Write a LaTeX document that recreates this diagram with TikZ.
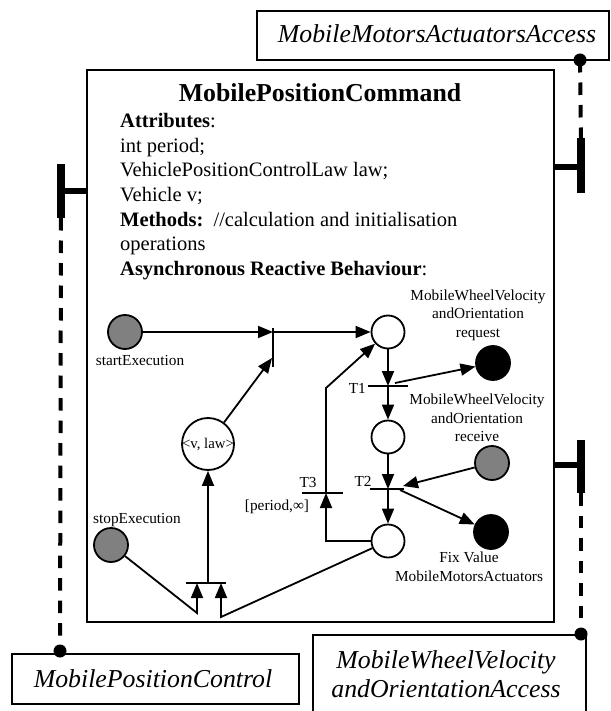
\documentclass[tikz,border=0pt]{standalone}
\usepackage{fontspec}
\setmainfont{Liberation Serif}
\usetikzlibrary{arrows.meta}

\begin{document}
\begin{tikzpicture}[x=1pt,y=-1pt,
  umlbox/.style={draw,line width=1.8pt,inner sep=0pt,outer sep=0pt},
  pnplace/.style={circle,draw,line width=1.8pt,minimum size=33pt,inner sep=0pt},
  gplace/.style={pnplace,fill=black!50,minimum size=34pt},
  bplace/.style={pnplace,fill=black,minimum size=34pt},
  pnarc/.style={line width=1.8pt,-{Triangle[length=15pt,width=12pt]}},
  tbar/.style={line width=1.8pt},
  small/.style={font=\fontsize{15.3}{18.5}\selectfont,inner sep=0pt},
  body/.style={font=\fontsize{20.5}{24.5}\selectfont,anchor=base west,inner sep=0pt},
  ital/.style={font=\fontsize{25.8}{29}\selectfont\itshape,inner sep=0pt},
  dashline/.style={line width=4pt,dash pattern=on 12.5pt off 10pt},
  thickbar/.style={line width=7.5pt},
  stem/.style={line width=6pt},
  joint/.style={circle,fill=black,minimum size=13pt,inner sep=0pt}
]
\useasboundingbox (0,0) rectangle (610,711);

% ---- component boxes ----
\node[umlbox,anchor=north west,minimum width=352pt,minimum height=49pt] (mmaa) at (257,11) {};
\node[ital,anchor=base] at (437,43) {MobileMotorsActuatorsAccess};

\node[umlbox,anchor=north west,minimum width=467pt,minimum height=552pt] (cmd) at (87,70) {};

\node[umlbox,anchor=north west,minimum width=287pt,minimum height=50pt] (mpc) at (12,654) {};
\node[ital,anchor=base] at (153,687) {MobilePositionControl};

\node[umlbox,anchor=north west,minimum width=273pt,minimum height=82pt] (wvoa) at (313,635) {};
\node[ital,anchor=base] at (446,668) {MobileWheelVelocity};
\node[ital,anchor=base] at (446,697) {andOrientationAccess};

% ---- ports and dashed links ----
\node[joint] (d1) at (580,60) {};
\node[joint] (d2) at (60,651) {};
\node[joint] (d3) at (581,634) {};

\coordinate (pa1) at (581,138); \coordinate (pa2) at (581,193);
\coordinate (pb1) at (61,164);  \coordinate (pb2) at (61,218);
\coordinate (pc1) at (581,440); \coordinate (pc2) at (581,493);

\draw[dashline] (d1.center) -- (pa1);
\draw[dashline] (pb2) -- (d2.center);
\draw[dashline] (pc2) -- (d3.center);

\draw[thickbar] (pa1) -- (pa2);
\draw[stem] (554,167) -- (pa1 |- 0,167);
\draw[thickbar] (pb1) -- (pb2);
\draw[stem] (pb1 |- 0,191) -- (87,191);
\draw[thickbar] (pc1) -- (pc2);
\draw[stem] (554,465) -- (pc1 |- 0,465);

% ---- class text ----
\node[font=\fontsize{25.8}{30}\selectfont\bfseries,anchor=base,inner sep=0pt] at (320,102) {MobilePositionCommand};
\node[body] at (120,128) {\textbf{Attributes}:};
\node[body] at (120,152.5) {int period;};
\node[body] at (120,177) {VehiclePositionControlLaw law;};
\node[body] at (120,201.5) {Vehicle v;};
\node[body] at (120,226) {\textbf{Methods:}\ \ //calculation and initialisation};
\node[body] at (120,250.5) {operations};
\node[body] at (120,275) {\textbf{Asynchronous Reactive Behaviour}:};

% ---- Petri net: places ----
\node[gplace] (start) at (125,332) {};
\node[pnplace] (p1) at (388,332) {};
\node[pnplace,minimum size=52pt] (vlaw) at (208,444) {};
\node[font=\fontsize{14.8}{16}\selectfont,inner sep=0pt] at (vlaw) {<v, law>};
\node[bplace] (request) at (493,363) {};
\node[pnplace] (p2) at (388,437) {};
\node[gplace] (receive) at (492,463) {};
\node[bplace] (fix) at (491,532) {};
\node[pnplace] (p3) at (388,541) {};
\node[gplace] (stop) at (111,545) {};

% ---- Petri net: transitions ----
\coordinate (t0) at (273,332);
\coordinate (t0b) at (272,358);
\draw[tbar] (273,328) -- (273,367);
\coordinate (t1) at (388,386);
\coordinate (t1r) at (395,383);
\draw[tbar] (368,386) -- (408,386);
\coordinate (t2) at (388,489);
\coordinate (t2r) at (403,486);
\coordinate (t2o) at (400,490);
\draw[tbar] (370,489) -- (404,489);
\coordinate (t3) at (326,493);
\coordinate (t3k) at (326,388);
\coordinate (t3in) at (326,541);
\draw[tbar] (302,493) -- (343,493);
\coordinate (tb) at (208,583);
\coordinate (tbl) at (197,583);
\coordinate (tbr) at (221,583);
\coordinate (tbll) at (197,613);
\coordinate (tbrl) at (221,617);
\draw[tbar] (186,583) -- (226,583);

% ---- Petri net: arcs ----
\draw[pnarc] (start) -- (t0);
\draw[pnarc] (t0) -- (p1);
\draw[pnarc] (vlaw) -- (t0b);
\draw[pnarc] (p1) -- (t1);
\draw[pnarc] (t1) -- (p2);
\draw[pnarc] (t1r) -- (request);
\draw[pnarc] (p2) -- (t2);
\draw[pnarc] (receive) -- (t2r);
\draw[pnarc] (t2o) -- (fix);
\draw[pnarc] (t2) -- (p3);
\draw[pnarc] (p3) -- (t3in) -- (t3);
\draw[pnarc] (t3) -- (t3k) -- (p1);
\draw[pnarc] (stop) -- (tbll) -- (tbl);
\draw[pnarc] (p3) -- (tbrl) -- (tbr);
\draw[pnarc] (tb) -- (vlaw);

% ---- Petri net: labels ----
\node[small,anchor=base] at (140,365) {startExecution};
\node[small,anchor=base] at (137,523) {stopExecution};
\node[small,align=center] at (478,315) {MobileWheelVelocity\\andOrientation\\request};
\node[small,align=center] at (477,418) {MobileWheelVelocity\\andOrientation\\receive};
\node[small,align=center] at (469,567) {Fix Value\\MobileMotorsActuators};
\node[small,anchor=east] at (366,388) {T1};
\node[small] at (363,481) {T2};
\node[small] at (308,483) {T3};
\node[small] at (277,507) {[period,∞]};
\end{tikzpicture}
\end{document}
